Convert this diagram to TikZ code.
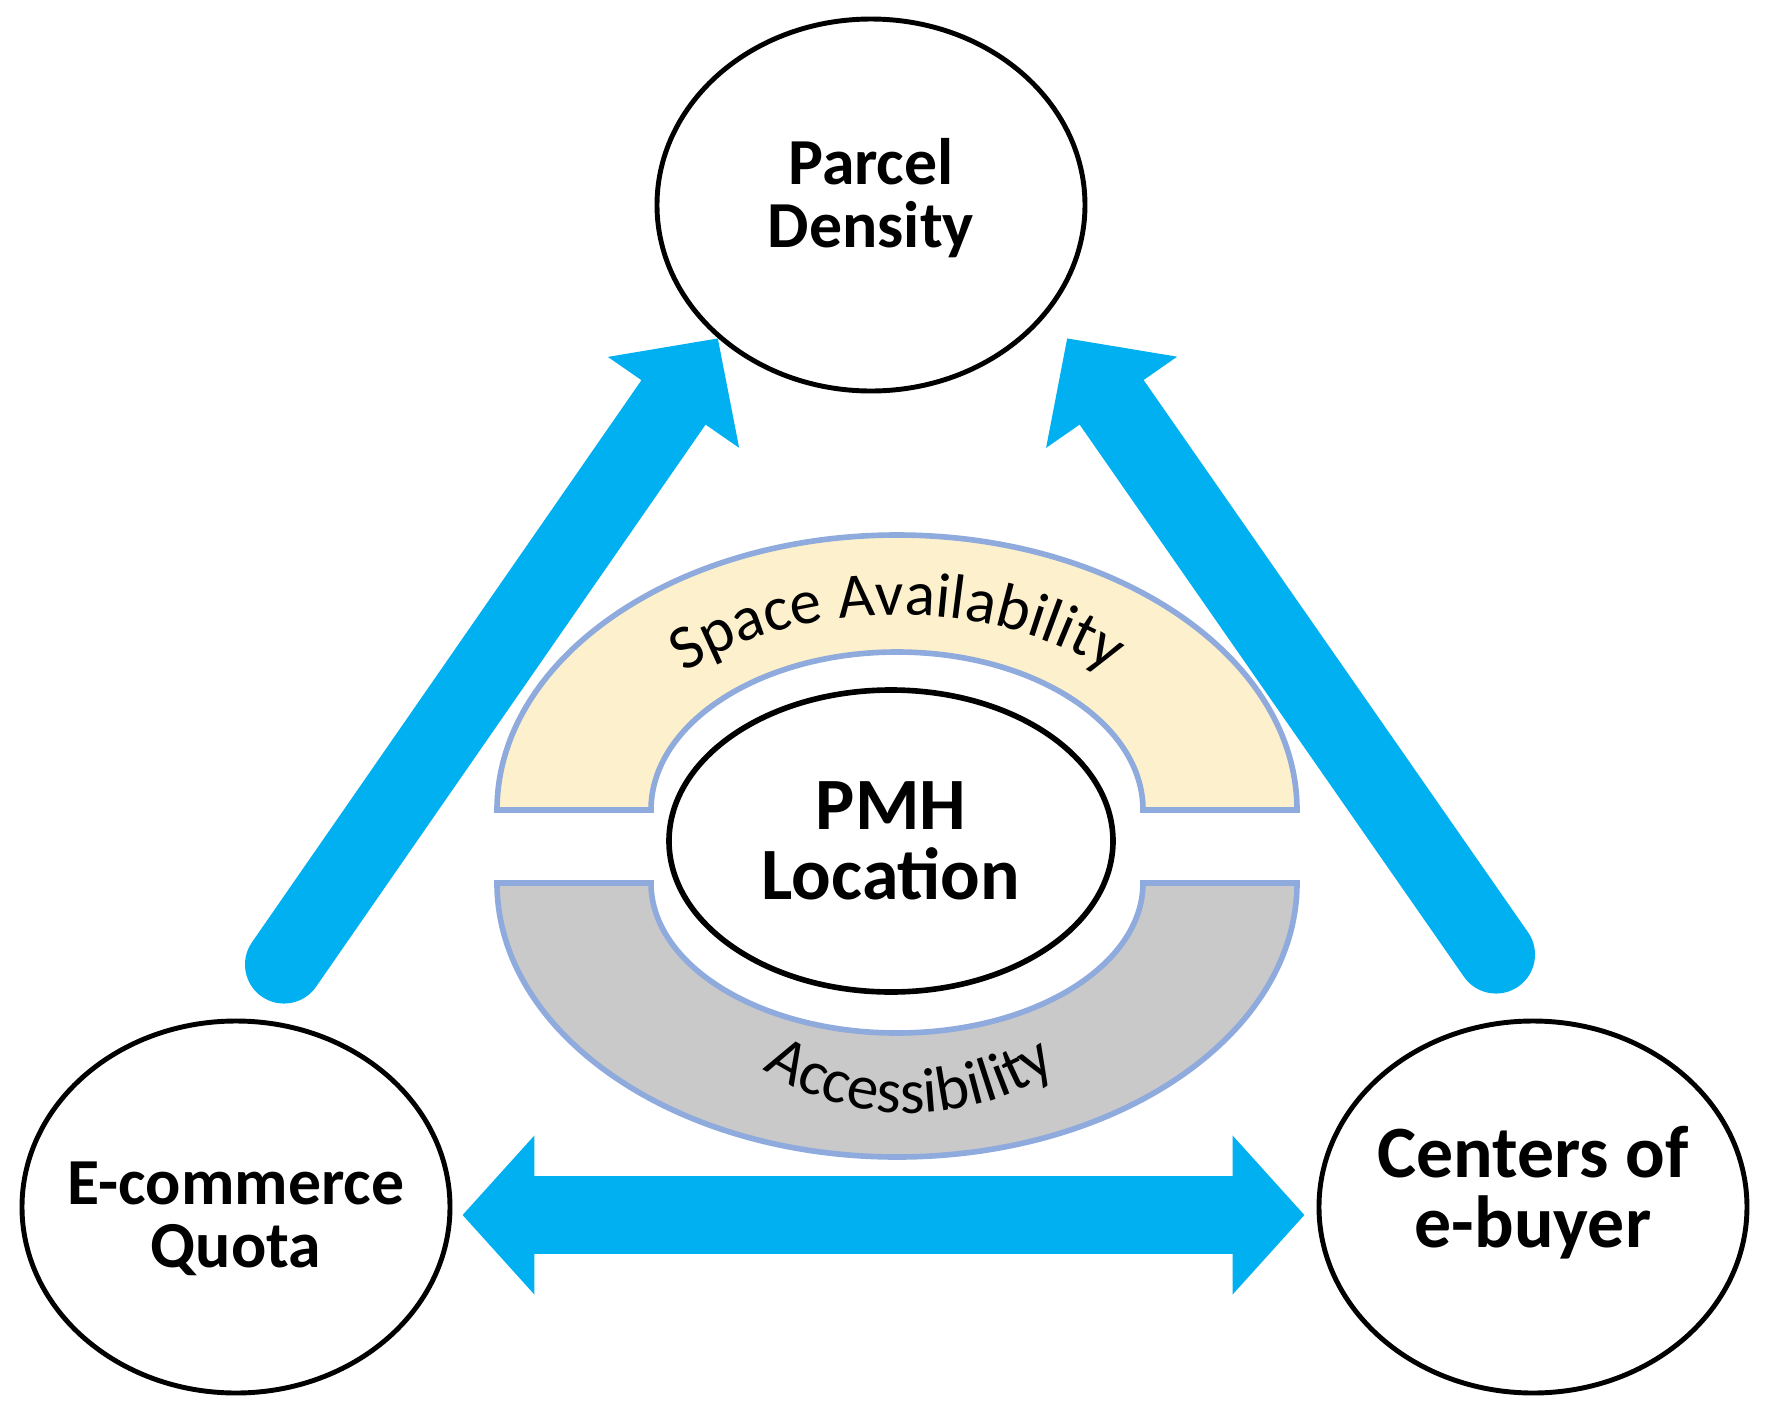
\documentclass[tikz,border=0pt]{standalone}
\usepackage{fontspec}
\setmainfont{Carlito}
\usepackage{tikz}
\usetikzlibrary{shapes}
\usetikzlibrary{arrows.meta}
\usetikzlibrary{decorations.text}
\definecolor{pmhblue}{RGB}{0,176,240}
\definecolor{bandedge}{RGB}{143,170,220}
\definecolor{bandyellow}{RGB}{253,240,204}
\definecolor{bandgray}{RGB}{201,201,201}
\newcommand{\bandfont}{\fontsize{18}{18}\selectfont}
\tikzset{
  factor/.style={draw, ellipse, line width=1.4pt, inner sep=0pt, minimum width=4.28cm, minimum height=3.72cm},
  factortext/.style={font=\bfseries\fontsize{18.7}{18}\selectfont, align=center},
  bigtext/.style={font=\bfseries\fontsize{21}{20}\selectfont, align=center},
  bigarrow/.style={draw=pmhblue, line width=0.78cm, line cap=round, -{Triangle[width=1.55cm,length=0.78cm]}},
  band/.style={draw=bandedge, line width=1.6pt},
}

\begin{document}
\begin{tikzpicture}
    \useasboundingbox (0,0) rectangle (17.71,-14.11);
    % outer factors
    \node[factor, label={[factortext, yshift=0.07cm]center:Parcel\\Density}] (pd) at (8.71,-2.05) {};
    \node[factor, label={[factortext, yshift=-0.12cm]center:E-commerce\\Quota}] (eq) at (2.36,-12.07) {};
    \node[factor, label={[bigtext, yshift=0.14cm]center:Centers of\\e-buyer}] (ce) at (15.33,-12.07) {};
    % bands
    \filldraw[band, fill=bandyellow] (4.97,-8.10) arc[start angle=180, end angle=0, x radius=4.0, y radius=2.75]
        -- (11.43,-8.10) arc[start angle=0, end angle=180, x radius=2.46, y radius=1.58] -- cycle;
    \filldraw[band, fill=bandgray] (4.97,-8.83) arc[start angle=180, end angle=360, x radius=4.0, y radius=2.74]
        -- (11.43,-8.83) arc[start angle=0, end angle=-180, x radius=2.46, y radius=1.50] -- cycle;
    \path[decorate, decoration={text along path, text align=center, text={|\bandfont|Space Availability}}]
        (5.97,-8.10) arc[start angle=180, end angle=0, x radius=3.0, y radius=1.95];
    \path[decorate, decoration={text along path, text align=center, text={|\bandfont|Accessibility}}]
        (6.60,-8.83) arc[start angle=180, end angle=360, x radius=2.5, y radius=2.30];
    % hub
    \node[factor, line width=1.6pt, minimum width=4.44cm, minimum height=3.02cm, label={[bigtext]center:PMH\\Location}] (pmh) at (8.91,-8.41) {};
    % arrows
    \draw[bigarrow] ([shift={(0.48,0.54)}]eq.north) -- (pd.south west);
    \draw[bigarrow] ([shift={(-0.37,0.64)}]ce.north) -- ([xshift=0.43cm]pd.south east);
    \draw[bigarrow, {Triangle[width=1.55cm,length=0.72cm]}-{Triangle[width=1.55cm,length=0.72cm]}]
        ([shift={(0.10,-0.08)}]eq.east) -- ([shift={(-0.12,-0.08)}]ce.west);
\end{tikzpicture}
\end{document}
